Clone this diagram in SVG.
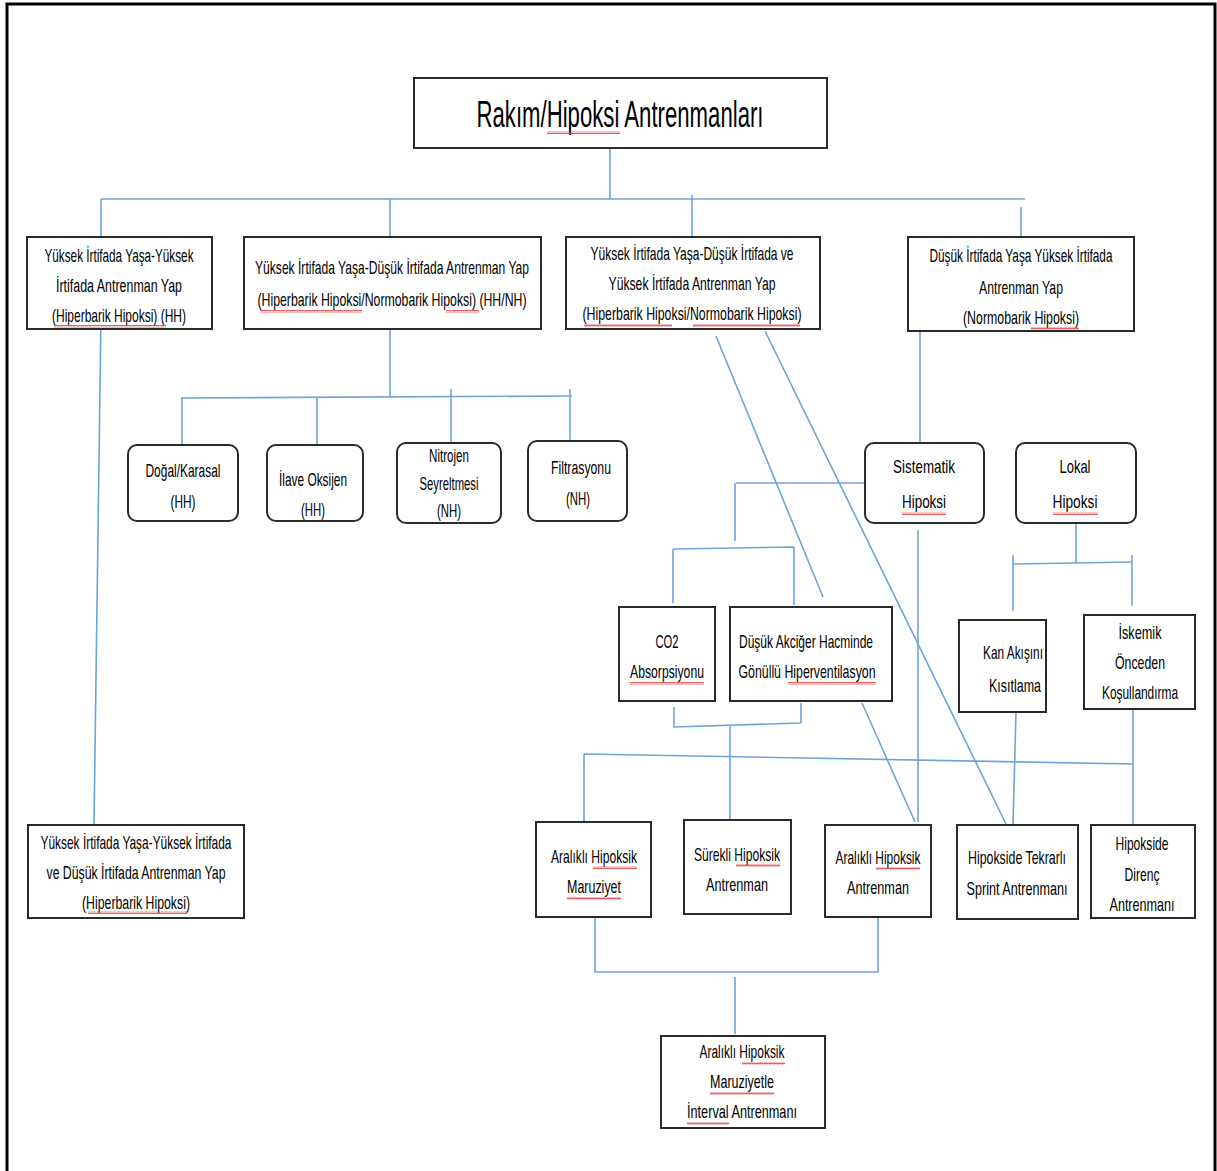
<svg xmlns="http://www.w3.org/2000/svg" width="1217" height="1171" viewBox="0 0 1217 1171">
<defs>
<pattern id="wavy" width="4" height="3" patternUnits="userSpaceOnUse">
<path d="M0,2.5 L1,0.5 L2,2.5 L3,0.5 L4,2.5" fill="none" stroke="#e23a3a" stroke-width="0.8"/>
</pattern>
</defs>
<style>
.frame{fill:none;stroke:#000;stroke-width:3}
.box{fill:#fff;stroke:#2a2a2a;stroke-width:2}
.rbox{fill:#fff;stroke:#2a2a2a;stroke-width:2}
.c{fill:none;stroke:#6fa3dc;stroke-width:1.6}
text{font-family:"Liberation Sans","DejaVu Sans",sans-serif;font-size:19px;fill:#000;text-anchor:middle;dominant-baseline:central}
.t{font-size:36px}
.w{fill:url(#wavy)}
</style>
<rect width="1217" height="1171" fill="#fff"/>
<path class="frame" d="M7,1171 V4 H1215 V1171"/>

<g id="connectors">
<path class="c" d="M610,148 V199 M101,199 H1025 M101,199 V237 M390,199 V237 M692,195 V237 M1021,207 V237"/>
<path class="c" d="M390,329 V396 M182,398 L572,396 M182,397 V446 M317,397 V453 M451,389 V465 M570,389 V441"/>
<path class="c" d="M101,315 L94,824"/>
<path class="c" d="M920,331 V443"/>
<path class="c" d="M865,483 H736 M735,483 V541 M673,549 L794,547 M673,549 V603 M794,547 V605"/>
<path class="c" d="M674,707 V727 L801,723 M801,703 V723 M730,726 V822"/>
<path class="c" d="M584,754 L1133,764 M584,754 V822 M1133,709 V825"/>
<path class="c" d="M918,530 V822"/>
<path class="c" d="M716,336 L823,597 M765,331 L1006,824 M862,703 L915,822 M1016,712 L1013,825"/>
<path class="c" d="M1076,523 V563 M1013,564 L1133,562 M1013,555 V611 M1132,555 V606"/>
<path class="c" d="M595,918 V972 H878 V918 M735,977 V1034"/>
</g>

<g id="n-title"><rect class="box" x="414" y="78" width="413" height="70"/>
<text class="t" x="620" y="114" textLength="287" lengthAdjust="spacingAndGlyphs">Rakım/Hipoksi Antrenmanları</text></g>

<g id="n-a"><rect class="box" x="27" y="237" width="185" height="92"/>
<text x="119" y="255" textLength="149" lengthAdjust="spacingAndGlyphs">Yüksek İrtifada Yaşa-Yüksek</text>
<text x="119" y="285" textLength="126" lengthAdjust="spacingAndGlyphs">İrtifada Antrenman Yap</text>
<text x="119" y="315" textLength="134" lengthAdjust="spacingAndGlyphs">(Hiperbarik Hipoksi) (HH)</text></g>

<g id="n-b"><rect class="box" x="244" y="237" width="297" height="92"/>
<text x="392" y="267" textLength="274" lengthAdjust="spacingAndGlyphs">Yüksek İrtifada Yaşa-Düşük İrtifada Antrenman Yap</text>
<text x="392" y="299" textLength="269" lengthAdjust="spacingAndGlyphs">(Hiperbarik Hipoksi/Normobarik Hipoksi) (HH/NH)</text></g>

<g id="n-c"><rect class="box" x="566" y="237" width="254" height="92"/>
<text x="692" y="253" textLength="203" lengthAdjust="spacingAndGlyphs">Yüksek İrtifada Yaşa-Düşük İrtifada ve</text>
<text x="692" y="283" textLength="167" lengthAdjust="spacingAndGlyphs">Yüksek İrtifada Antrenman Yap</text>
<text x="692" y="313" textLength="219" lengthAdjust="spacingAndGlyphs">(Hiperbarik Hipoksi/Normobarik Hipoksi)</text></g>

<g id="n-d"><rect class="box" x="908" y="237" width="226" height="94"/>
<text x="1021" y="255" font-size="18" textLength="183" lengthAdjust="spacingAndGlyphs">Düşük İrtifada Yaşa Yüksek İrtifada</text>
<text x="1021" y="287" textLength="84" lengthAdjust="spacingAndGlyphs">Antrenman Yap</text>
<text x="1021" y="317" textLength="116" lengthAdjust="spacingAndGlyphs">(Normobarik Hipoksi)</text></g>

<g id="n-dogal"><rect class="rbox" x="128" y="445" width="110" height="76" rx="9"/>
<text x="183" y="470" textLength="75" lengthAdjust="spacingAndGlyphs">Doğal/Karasal</text>
<text x="183" y="501" textLength="25" lengthAdjust="spacingAndGlyphs">(HH)</text></g>

<g id="n-ilave"><rect class="rbox" x="267" y="445" width="96" height="76" rx="9"/>
<text x="313" y="479" textLength="68" lengthAdjust="spacingAndGlyphs">İlave Oksijen</text>
<text x="313" y="509" textLength="24" lengthAdjust="spacingAndGlyphs">(HH)</text></g>

<g id="n-nitrojen"><rect class="rbox" x="397" y="443" width="104" height="80" rx="9"/>
<text x="449" y="455" font-size="16" textLength="40" lengthAdjust="spacingAndGlyphs">Nitrojen</text>
<text x="449" y="483" font-size="16" textLength="59" lengthAdjust="spacingAndGlyphs">Seyreltmesi</text>
<text x="449" y="510" font-size="16" textLength="24" lengthAdjust="spacingAndGlyphs">(NH)</text></g>

<g id="n-filtrasyon"><rect class="rbox" x="528" y="441" width="99" height="80" rx="9"/>
<text x="581" y="467" textLength="60" lengthAdjust="spacingAndGlyphs">Filtrasyonu</text>
<text x="578" y="498" textLength="24" lengthAdjust="spacingAndGlyphs">(NH)</text></g>

<g id="n-sistematik"><rect class="rbox" x="865" y="443" width="119" height="80" rx="9"/>
<text x="924" y="466" font-size="21" textLength="62" lengthAdjust="spacingAndGlyphs">Sistematik</text>
<text x="924" y="501" font-size="21" textLength="44" lengthAdjust="spacingAndGlyphs">Hipoksi</text></g>

<g id="n-lokal"><rect class="rbox" x="1016" y="443" width="120" height="80" rx="9"/>
<text x="1075" y="466" font-size="21" textLength="31" lengthAdjust="spacingAndGlyphs">Lokal</text>
<text x="1075" y="501" font-size="21" textLength="45" lengthAdjust="spacingAndGlyphs">Hipoksi</text></g>

<g id="n-co2"><rect class="box" x="619" y="607" width="96" height="94"/>
<text x="667" y="641" textLength="23" lengthAdjust="spacingAndGlyphs">CO2</text>
<text x="667" y="671" textLength="74" lengthAdjust="spacingAndGlyphs">Absorpsiyonu</text></g>

<g id="n-dusuk"><rect class="box" x="730" y="607" width="162" height="94"/>
<text x="806" y="641" textLength="134" lengthAdjust="spacingAndGlyphs">Düşük Akciğer Hacminde</text>
<text x="807" y="671" textLength="137" lengthAdjust="spacingAndGlyphs">Gönüllü Hiperventilasyon</text></g>

<g id="n-kan"><rect class="box" x="959" y="620" width="87" height="92"/>
<text x="1013" y="652" font-size="21" textLength="60" lengthAdjust="spacingAndGlyphs">Kan Akışını</text>
<text x="1015" y="685" font-size="21" textLength="52" lengthAdjust="spacingAndGlyphs">Kısıtlama</text></g>

<g id="n-iskemik"><rect class="box" x="1084" y="615" width="111" height="94"/>
<text x="1140" y="632" textLength="43" lengthAdjust="spacingAndGlyphs">İskemik</text>
<text x="1140" y="662" textLength="50" lengthAdjust="spacingAndGlyphs">Önceden</text>
<text x="1140" y="692" font-size="17" textLength="76" lengthAdjust="spacingAndGlyphs">Koşullandırma</text></g>

<g id="n-e"><rect class="box" x="28" y="825" width="216" height="93"/>
<text x="136" y="842" textLength="191" lengthAdjust="spacingAndGlyphs">Yüksek İrtifada Yaşa-Yüksek İrtifada</text>
<text x="136" y="872" textLength="179" lengthAdjust="spacingAndGlyphs">ve Düşük İrtifada Antrenman Yap</text>
<text x="136" y="902" textLength="108" lengthAdjust="spacingAndGlyphs">(Hiperbarik Hipoksi)</text></g>

<g id="n-aralikli-maruziyet"><rect class="box" x="536" y="822" width="115" height="95"/>
<text x="594" y="856" textLength="86" lengthAdjust="spacingAndGlyphs">Aralıklı Hipoksik</text>
<text x="594" y="886" textLength="54" lengthAdjust="spacingAndGlyphs">Maruziyet</text></g>

<g id="n-surekli"><rect class="box" x="684" y="820" width="107" height="94"/>
<text x="737" y="854" textLength="86" lengthAdjust="spacingAndGlyphs">Sürekli Hipoksik</text>
<text x="737" y="884" textLength="62" lengthAdjust="spacingAndGlyphs">Antrenman</text></g>

<g id="n-aralikli-antrenman"><rect class="box" x="825" y="825" width="106" height="92"/>
<text x="878" y="857" textLength="85" lengthAdjust="spacingAndGlyphs">Aralıklı Hipoksik</text>
<text x="878" y="887" textLength="62" lengthAdjust="spacingAndGlyphs">Antrenman</text></g>

<g id="n-sprint"><rect class="box" x="957" y="825" width="121" height="94"/>
<text x="1017" y="857" textLength="98" lengthAdjust="spacingAndGlyphs">Hipokside Tekrarlı</text>
<text x="1017" y="888" textLength="101" lengthAdjust="spacingAndGlyphs">Sprint Antrenmanı</text></g>

<g id="n-direnc"><rect class="box" x="1091" y="825" width="104" height="93"/>
<text x="1142" y="843" textLength="53" lengthAdjust="spacingAndGlyphs">Hipokside</text>
<text x="1142" y="874" textLength="35" lengthAdjust="spacingAndGlyphs">Direnç</text>
<text x="1142" y="904" textLength="65" lengthAdjust="spacingAndGlyphs">Antrenmanı</text></g>

<g id="n-interval"><rect class="box" x="661" y="1036" width="164" height="92"/>
<text x="742" y="1051" textLength="85" lengthAdjust="spacingAndGlyphs">Aralıklı Hipoksik</text>
<text x="742" y="1081" textLength="64" lengthAdjust="spacingAndGlyphs">Maruziyetle</text>
<text x="742" y="1111" textLength="110" lengthAdjust="spacingAndGlyphs">İnterval Antrenmanı</text></g>

<g id="spellcheck">
<rect class="w" x="547" y="131" width="73" height="3"/>
<rect class="w" x="54" y="325" width="112" height="3"/>
<rect class="w" x="260" y="310" width="102" height="3"/>
<rect class="w" x="446" y="310" width="33" height="3"/>
<rect class="w" x="584" y="324" width="88" height="3"/>
<rect class="w" x="693" y="324" width="107" height="3"/>
<rect class="w" x="1031" y="327" width="48" height="3"/>
<rect class="w" x="88" y="911" width="99" height="3"/>
<rect class="w" x="902" y="512" width="44" height="3"/>
<rect class="w" x="1053" y="512" width="45" height="3"/>
<rect class="w" x="630" y="682" width="74" height="3"/>
<rect class="w" x="788" y="682" width="88" height="3"/>
<rect class="w" x="593" y="866" width="44" height="3"/>
<rect class="w" x="567" y="897" width="54" height="3"/>
<rect class="w" x="736" y="864" width="44" height="3"/>
<rect class="w" x="876" y="867" width="44" height="3"/>
<rect class="w" x="742" y="1062" width="43" height="3"/>
<rect class="w" x="710" y="1092" width="64" height="3"/>
<rect class="w" x="687" y="1122" width="42" height="3"/>
</g>
</svg>
